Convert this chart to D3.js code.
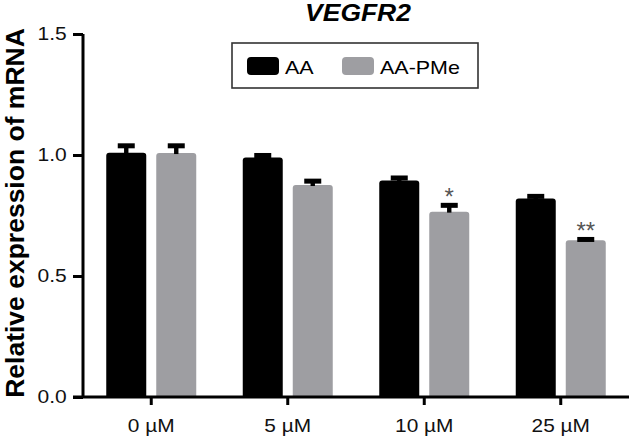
<!DOCTYPE html>
<html>
<head>
<meta charset="utf-8">
<script src="https://cdn.jsdelivr.net/npm/d3@7"></script>
<style>
  html, body { margin: 0; padding: 0; background: #fff; }
  svg { display: block; font-family: "Liberation Sans", Arial, sans-serif; }
</style>
</head>
<body>
<svg id="chart" width="630" height="436"></svg>
<script>
// ---- data ----
const categories = ["0 \u00B5M", "5 \u00B5M", "10 \u00B5M", "25 \u00B5M"];
const seriesNames = ["AA", "AA-PMe"];
const valuesAA = [1.009, 0.990, 0.895, 0.820];
const valuesPMe = [1.008, 0.876, 0.766, 0.648];
const errorsAA = [0.029, 0.008, 0.010, 0.009];
const errorsPMe = [0.030, 0.016, 0.026, 0.003];
const significancePMe = ["", "", "*", "**"];
const yTicks = [0.0, 0.5, 1.0, 1.5];
const seriesColors = ["#000000", "#9e9ea2"];
const titleText = "VEGFR2";
const yLabelText = "Relative expression of mRNA";

const svg = d3.select("#chart");
const plotLeft = 83, plotRight = 629, plotTop = 34, plotBottom = 397;

const x0 = d3.scaleBand().domain(categories).range([plotLeft, plotRight]).padding(0);
const x1 = d3.scaleBand().domain(seriesNames).range([0, 90]).paddingInner(0.2).paddingOuter(0);
const y = d3.scaleLinear().domain([0, 1.5]).range([plotBottom, plotTop]);
const color = d3.scaleOrdinal().domain(seriesNames).range(seriesColors);

const rows = [];
categories.forEach((c, i) => {
  rows.push({cat: c, s: "AA", v: valuesAA[i], e: errorsAA[i], sig: ""});
  rows.push({cat: c, s: "AA-PMe", v: valuesPMe[i], e: errorsPMe[i], sig: significancePMe[i]});
});
const barX = d => x0(d.cat) + (x0.bandwidth() - 90) / 2 + x1(d.s);

// bars with rounded top corners
function barPath(d) {
  const x = barX(d), w = x1.bandwidth(), yt = y(d.v), yb = y(0), r = 3;
  return `M${x},${yb}V${yt + r}Q${x},${yt} ${x + r},${yt}H${x + w - r}Q${x + w},${yt} ${x + w},${yt + r}V${yb}Z`;
}
svg.append("g").selectAll("path").data(rows).join("path")
  .attr("d", barPath)
  .attr("fill", d => color(d.s));

// error bars (upper only)
const eg = svg.append("g");
rows.forEach(d => {
  const cx = barX(d) + x1.bandwidth() / 2;
  const yTop = y(d.v + d.e);
  eg.append("rect").attr("x", cx - 2.2).attr("width", 4.4)
    .attr("y", yTop).attr("height", Math.max(0, y(d.v) - yTop + 1)).attr("fill", "#000");
  eg.append("rect").attr("x", cx - 8.5).attr("width", 17)
    .attr("y", yTop - 2.5).attr("height", 5).attr("fill", "#000");
  if (d.sig) {
    eg.append("text").attr("x", cx).attr("y", yTop)
      .attr("text-anchor", "middle").attr("font-size", 24).attr("fill", "#555")
      .text(d.sig);
  }
});

// y axis
const yAxis = svg.append("g").attr("transform", `translate(${plotLeft},0)`)
  .call(d3.axisLeft(y).tickValues(yTicks).tickFormat(d3.format(".1f")).tickSize(10).tickPadding(0));
yAxis.select(".domain").attr("stroke-width", 3).attr("d", `M0,${plotTop}V${plotBottom}`);
yAxis.selectAll(".tick line").attr("stroke-width", 3);
yAxis.selectAll(".tick text")
  .attr("font-size", 17.5).attr("font-family", "Liberation Sans, Arial, sans-serif")
  .attr("fill", "#111")
  .attr("x", -13.5)
  .attr("transform", "scale(1.2,1)");

// x axis
const xAxis = svg.append("g").attr("transform", `translate(0,${plotBottom})`)
  .call(d3.axisBottom(x0).tickSize(8).tickPadding(0));
xAxis.select(".domain").attr("stroke-width", 3).attr("d", `M${plotLeft - 10},0H${plotRight}`);
xAxis.selectAll(".tick line").attr("stroke-width", 3);
xAxis.selectAll(".tick text")
  .attr("font-size", 18).attr("font-family", "Liberation Sans, Arial, sans-serif")
  .attr("fill", "#111")
  .attr("y", 35).attr("dy", 0)
  .attr("transform", "scale(1.16,1)");

// title
svg.append("text")
  .attr("transform", "translate(358,21) scale(1.15,1)")
  .attr("text-anchor", "middle").attr("font-size", 23)
  .attr("font-weight", "bold").attr("font-style", "italic")
  .text(titleText);

// y label
svg.append("text")
  .attr("transform", "translate(24,213) rotate(-90)")
  .attr("text-anchor", "middle").attr("font-size", 26.5).attr("font-weight", "bold")
  .text(yLabelText);

// legend
const lg = svg.append("g");
lg.append("rect").attr("x", 232).attr("y", 43).attr("width", 246).attr("height", 45)
  .attr("fill", "#fff").attr("stroke", "#333").attr("stroke-width", 1.6);
const legendX = [247, 342];
seriesNames.forEach((s, i) => {
  lg.append("rect").attr("x", legendX[i]).attr("y", 57).attr("width", 32).attr("height", 18)
    .attr("rx", 4).attr("fill", color(s));
  lg.append("text").attr("transform", `translate(${legendX[i] + 38},73.5) scale(1.13,1)`)
    .attr("font-size", 19).text(s);
});
</script>
</body>
</html>
